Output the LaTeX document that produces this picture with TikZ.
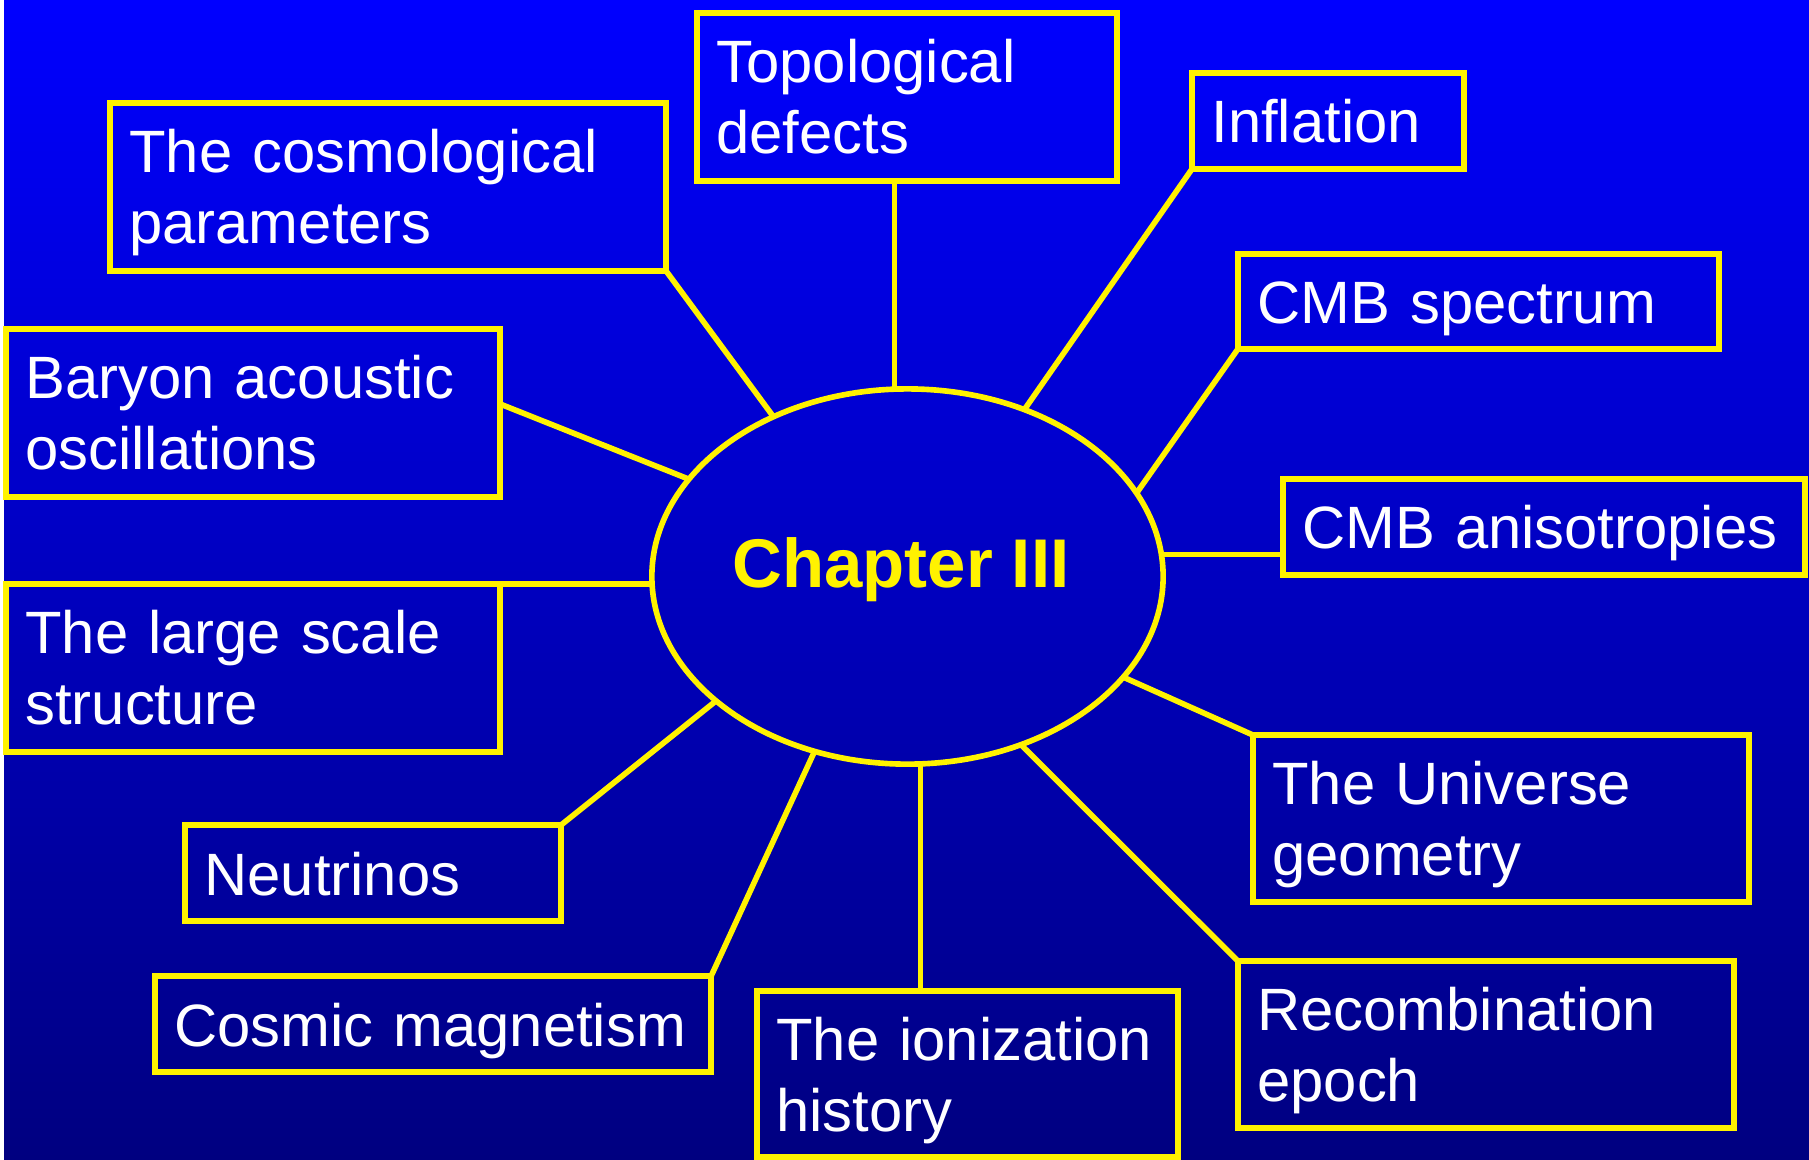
\documentclass[tikz,border=0pt]{standalone}
\usepackage{fontspec}
\setmainfont{Liberation Sans}
\usetikzlibrary{shapes.geometric}
\definecolor{TOPBLUE}{RGB}{0,0,255}
\definecolor{BOTBLUE}{RGB}{0,0,128}
\begin{document}
\begin{tikzpicture}
[
 x=0.01cm, y=-0.01cm,
 inner sep=0mm, outer sep=0mm,
 TOPIC/.style={rectangle, draw=yellow, line width=1.6pt},
 HUB/.style={ellipse, draw=yellow, line width=1.6pt, minimum width=5.11cm, minimum height=3.75cm},
 LABEL/.style={anchor=base west, text=white, align=left, text width=5.6cm, font=\fontsize{17}{20}\selectfont},
 TITLE/.style={anchor=base, text=yellow, font=\fontsize{19.6}{24}\selectfont\bfseries},
 LINK/.style={draw=yellow, line width=1.6pt},
 ]
%
\useasboundingbox (0,0) rectangle (1809,1159);
\fill [white] (0,0) rectangle (1809,1159);
\shade [top color=TOPBLUE, bottom color=BOTBLUE] (4,0) rectangle (1809,1159);
%
\node [HUB]   (CHAP)  at (907.5,576.5) {};
\node [TITLE] (CHAPT) at (901,587)     {Chapter III};
%
\node [TOPIC, minimum width=4.20cm, minimum height=1.68cm] (TOPO)  at ( 907,  97)   {};
\node [TOPIC, minimum width=5.56cm, minimum height=1.68cm] (COSMO) at ( 388, 187)   {};
\node [TOPIC, minimum width=2.72cm, minimum height=0.96cm] (INFL)  at (1328, 121)   {};
\node [TOPIC, minimum width=4.81cm, minimum height=0.95cm] (SPEC)  at (1478.5, 301.5) {};
\node [TOPIC, minimum width=5.22cm, minimum height=0.96cm] (ANISO) at (1544, 527)   {};
\node [TOPIC, minimum width=4.94cm, minimum height=1.68cm] (BAO)   at ( 253, 413)   {};
\node [TOPIC, minimum width=4.94cm, minimum height=1.68cm] (LSS)   at ( 253, 668)   {};
\node [TOPIC, minimum width=4.96cm, minimum height=1.67cm] (UNIV)  at (1501, 818.5) {};
\node [TOPIC, minimum width=3.76cm, minimum height=0.96cm] (NEUT)  at ( 373, 873)   {};
\node [TOPIC, minimum width=4.96cm, minimum height=1.67cm] (RECO)  at (1486, 1044.5) {};
\node [TOPIC, minimum width=5.56cm, minimum height=0.96cm] (COSM)  at ( 433, 1024)  {};
\node [TOPIC, minimum width=4.21cm, minimum height=1.66cm] (ION)   at ( 967.5, 1074) {};
%
\node [LABEL] (TOPO-T)  at ([shift={(19.5,70)}]TOPO.north west)  {Topological\\defects};
\node [LABEL] (COSMO-T) at ([shift={(19.5,70)}]COSMO.north west) {The cosmological\\parameters};
\node [LABEL] (INFL-T)  at ([shift={(19.5,70)}]INFL.north west)  {Inflation};
\node [LABEL] (SPEC-T)  at ([shift={(19.5,70)}]SPEC.north west)  {CMB spectrum};
\node [LABEL] (ANISO-T) at ([shift={(19.5,70)}]ANISO.north west) {CMB anisotropies};
\node [LABEL] (BAO-T)   at ([shift={(19.5,70)}]BAO.north west)   {Baryon acoustic\\oscillations};
\node [LABEL] (LSS-T)   at ([shift={(19.5,70)}]LSS.north west)   {The large scale\\structure};
\node [LABEL] (UNIV-T)  at ([shift={(19.5,70)}]UNIV.north west)  {The Universe\\geometry};
\node [LABEL] (NEUT-T)  at ([shift={(19.5,70)}]NEUT.north west)  {Neutrinos};
\node [LABEL] (RECO-T)  at ([shift={(19.5,70)}]RECO.north west)  {Recombination\\epoch};
\node [LABEL] (COSM-T)  at ([shift={(19.5,70)}]COSM.north west)  {Cosmic magnetism};
\node [LABEL] (ION-T)   at ([shift={(19.5,70)}]ION.north west)   {The ionization\\history};
%
\draw [LINK] (CHAP.94.7) -- (CHAP.94.7 |- TOPO.south);
\draw [LINK] (COSMO.south east) -- (CHAP.130.8);
\draw [LINK] (INFL.south west)  -- (CHAP.55.3);
\draw [LINK] (SPEC.south west)  -- (CHAP.20.2);
\draw [LINK] (CHAP.5.07) -- (CHAP.5.07 -| ANISO.west);
\draw [LINK] ([yshift=0.09cm]BAO.east) -- (CHAP.156.7);
\draw [LINK] (LSS.north east) -- (LSS.north east -| CHAP.west);
\draw [LINK] (UNIV.north west)  -- (CHAP.335.1);
\draw [LINK] (NEUT.north east)  -- (CHAP.213.2);
\draw [LINK] (COSM.north east)  -- (CHAP.242.4);
\draw [LINK] (CHAP.274.4) -- (CHAP.274.4 |- ION.north);
\draw [LINK] (RECO.north west)  -- (CHAP.304.7);
%
\end{tikzpicture}
\end{document}
